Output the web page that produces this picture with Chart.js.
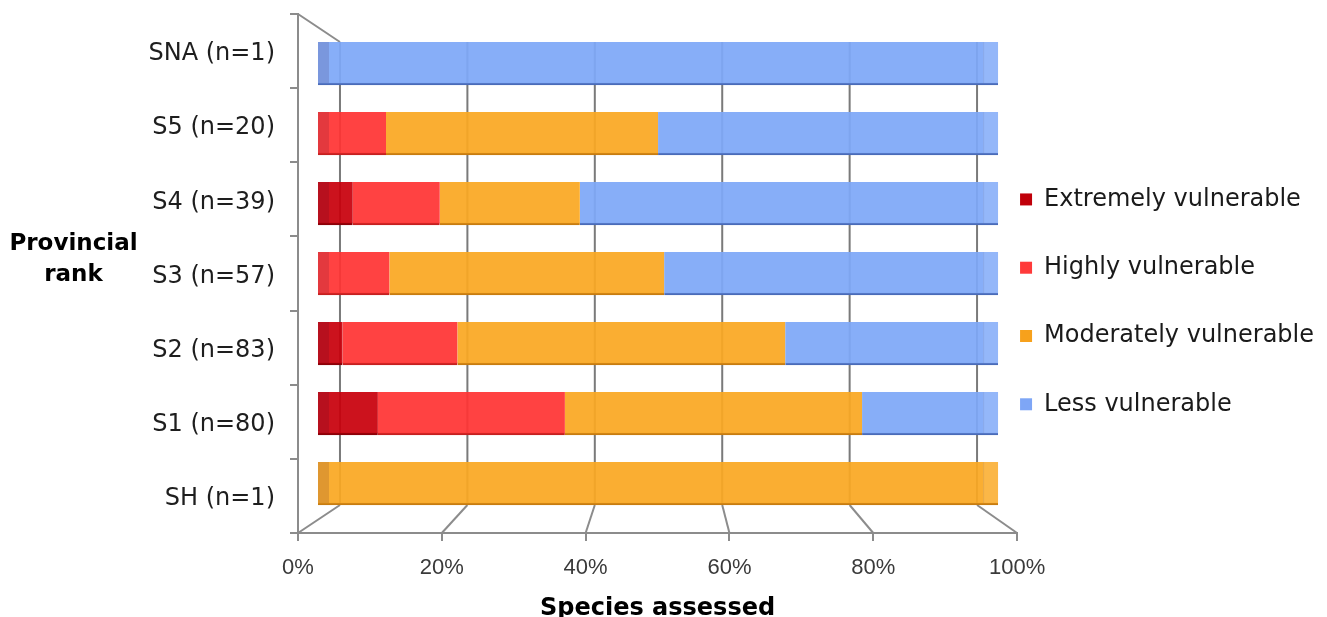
<!DOCTYPE html>
<html>
<head>
<meta charset="utf-8">
<script src="https://cdn.jsdelivr.net/npm/chart.js@4/dist/chart.umd.min.js"></script>
<style>
  html, body { margin: 0; padding: 0; background: #ffffff; overflow: hidden; }
  canvas { display: block; }
</style>
</head>
<body>
<canvas id="chart" width="1327" height="617"></canvas>
<script>
// Provincial rank categories (top to bottom) and share of species per vulnerability class (%)
const categories = ['SNA (n=1)', 'S5 (n=20)', 'S4 (n=39)', 'S3 (n=57)', 'S2 (n=83)', 'S1 (n=80)', 'SH (n=1)'];
const seriesNames = ['Extremely vulnerable', 'Highly vulnerable', 'Moderately vulnerable', 'Less vulnerable'];
const extremelyVulnerable = [0, 0, 5.1, 0, 3.6, 8.8, 0];
const highlyVulnerable = [0, 10, 12.8, 10.5, 16.9, 27.5, 0];
const moderatelyVulnerable = [0, 40, 20.6, 40.4, 48.2, 43.7, 100];
const lessVulnerable = [100, 50, 61.5, 49.1, 31.3, 20, 0];
const percentTicks = [0, 20, 40, 60, 80, 100];

const seriesValues = [extremelyVulnerable, highlyVulnerable, moderatelyVulnerable, lessVulnerable];

// Colours: face fill, darker lower edge, legend swatch
const faceColors = ['rgba(200,0,12,0.93)', 'rgba(255,52,52,0.93)', 'rgba(250,168,34,0.93)', 'rgba(126,168,248,0.93)'];
const edgeColors = ['#8a0008', '#c42020', '#c77c10', '#4a6bb8'];
const swatchColors = ['#c0000a', '#ff3a3a', '#f7a11c', '#7ea6f6'];

const AXIS_GREY = '#8c8c8c';
const GRID_GREY = '#7a7a7a';
const BAR_THICKNESS = 43;

// Draws the pseudo-3D frame: back-wall gridlines, floor diagonals, top edge,
// plus shaded end faces on each bar
const frame3d = {
  id: 'frame3d',
  beforeDatasetsDraw(chart) {
    const { ctx, chartArea, scales } = chart;
    const back = scales.xb, front = scales.xf, rows = scales.y;
    const wallTop = rows.getPixelForValue(0) - BAR_THICKNESS / 2;
    const floorBack = rows.getPixelForValue(categories.length - 1) + BAR_THICKNESS / 2;
    ctx.save();
    ctx.lineWidth = 2;
    percentTicks.forEach(v => {
      const xb = back.getPixelForValue(v);
      const xf = front.getPixelForValue(v);
      ctx.strokeStyle = GRID_GREY;
      ctx.beginPath();
      ctx.moveTo(xb, wallTop);
      ctx.lineTo(xb, floorBack);
      ctx.stroke();
      ctx.strokeStyle = AXIS_GREY;
      ctx.beginPath();
      ctx.moveTo(xb, floorBack);
      ctx.lineTo(xf, chartArea.bottom);
      ctx.stroke();
    });
    ctx.strokeStyle = AXIS_GREY;
    ctx.beginPath();
    ctx.moveTo(chartArea.left, chartArea.top);
    ctx.lineTo(back.getPixelForValue(0), wallTop);
    ctx.stroke();
    ctx.restore();
  },
  afterDatasetsDraw(chart) {
    const { ctx } = chart;
    const metas = chart.data.datasets.map((_, i) => chart.getDatasetMeta(i));
    ctx.save();
    categories.forEach((_, k) => {
      const bars = metas.map(m => m.data[k]).filter(el => el && Math.abs(el.x - el.base) > 0.5);
      if (!bars.length) return;
      const first = bars[0], last = bars[bars.length - 1];
      const top = first.y - first.height / 2;
      const h = first.height - 2;
      // left end face
      ctx.fillStyle = 'rgba(40,0,40,0.13)';
      ctx.fillRect(first.base, top, 11, h);
      // right end cap
      ctx.fillStyle = 'rgba(255,255,255,0.10)';
      ctx.fillRect(last.x - 15, top, 15, h);
      ctx.fillStyle = 'rgba(60,60,90,0.10)';
      ctx.fillRect(last.x - 15, top, 1, h);
    });
    ctx.restore();
  },
  afterDraw(chart) {
    const { ctx } = chart;
    ctx.save();
    ctx.fillStyle = '#000000';
    ctx.font = 'bold 23px "DejaVu Sans"';
    ctx.textAlign = 'center';
    ctx.textBaseline = 'middle';
    ctx.fillText('Provincial', 73.5, 244);
    ctx.fillText('rank', 73.5, 275);
    ctx.restore();
  }
};

new Chart(document.getElementById('chart'), {
  type: 'bar',
  data: {
    datasets: seriesNames.map((name, i) => ({
      label: name,
      data: seriesValues[i].map((v, k) => ({ x: v, y: k })),
      backgroundColor: faceColors[i],
      borderColor: edgeColors[i],
      borderWidth: { top: 0, right: 0, bottom: 2, left: 0 },
      borderSkipped: false,
      barThickness: BAR_THICKNESS,
      xAxisID: 'x',
      yAxisID: 'y'
    }))
  },
  options: {
    indexAxis: 'y',
    responsive: false,
    devicePixelRatio: 1,
    animation: false,
    events: [],
    layout: { padding: { top: 14, right: 3, bottom: 0, left: 0 } },
    scales: {
      // value scale the bars are drawn on (front face of the bars)
      x: { axis: 'x', type: 'linear', position: 'bottom', stacked: true, min: -2.94, max: 102.79, display: false },
      // back wall scale used for the gridlines
      xb: { axis: 'x', type: 'linear', position: 'bottom', min: -6.59, max: 106.28, display: false },
      // front floor edge carrying the tick labels
      xf: {
        axis: 'x', type: 'linear', position: 'bottom', min: 0, max: 100,
        ticks: {
          stepSize: 20, padding: 14, maxRotation: 0, autoSkip: false,
          callback: v => v + '%',
          font: { family: '"Liberation Sans", Arial, sans-serif', size: 22 },
          color: '#3a3a3a'
        },
        grid: { drawOnChartArea: false, tickLength: 8, color: AXIS_GREY, lineWidth: 2 },
        border: { color: AXIS_GREY, width: 2 },
        title: {
          display: true, text: 'Species assessed', color: '#000000', padding: 0,
          font: { family: '"DejaVu Sans", sans-serif', size: 24, weight: 'bold', lineHeight: 0.65 }
        },
        afterFit: s => { s.height = 84; s.paddingLeft = 0; s.paddingRight = 0; }
      },
      y: { axis: 'y', type: 'linear', reverse: true, offset: false, stacked: true, min: -0.7072, max: 6.7071, display: false },
      y2: {
        axis: 'y', type: 'category', position: 'left', labels: categories, offset: true,
        grid: { offset: true, drawOnChartArea: false, tickLength: 8, color: AXIS_GREY, lineWidth: 2 },
        border: { color: AXIS_GREY, width: 2 },
        ticks: { padding: 15, labelOffset: 3, font: { family: '"DejaVu Sans", sans-serif', size: 24 }, color: '#1e1e1e' },
        afterFit: s => { s.width = 298; s.paddingTop = 0; s.paddingBottom = 0; }
      }
    },
    plugins: {
      tooltip: { enabled: false },
      legend: {
        position: 'right',
        align: 'center',
        title: { display: true, text: ' ', padding: 2, font: { size: 10, lineHeight: 1 } },
        labels: {
          boxWidth: 12, boxHeight: 12, padding: 3, color: '#1a1a1a',
          font: { family: '"DejaVu Sans", sans-serif', size: 24, lineHeight: 2.72 },
          generateLabels: chart => Chart.defaults.plugins.legend.labels.generateLabels(chart).map((item, i) => ({
            ...item, text: [item.text], fillStyle: swatchColors[i], strokeStyle: swatchColors[i], lineWidth: 0
          }))
        }
      }
    }
  },
  plugins: [frame3d]
});
</script>
</body>
</html>
